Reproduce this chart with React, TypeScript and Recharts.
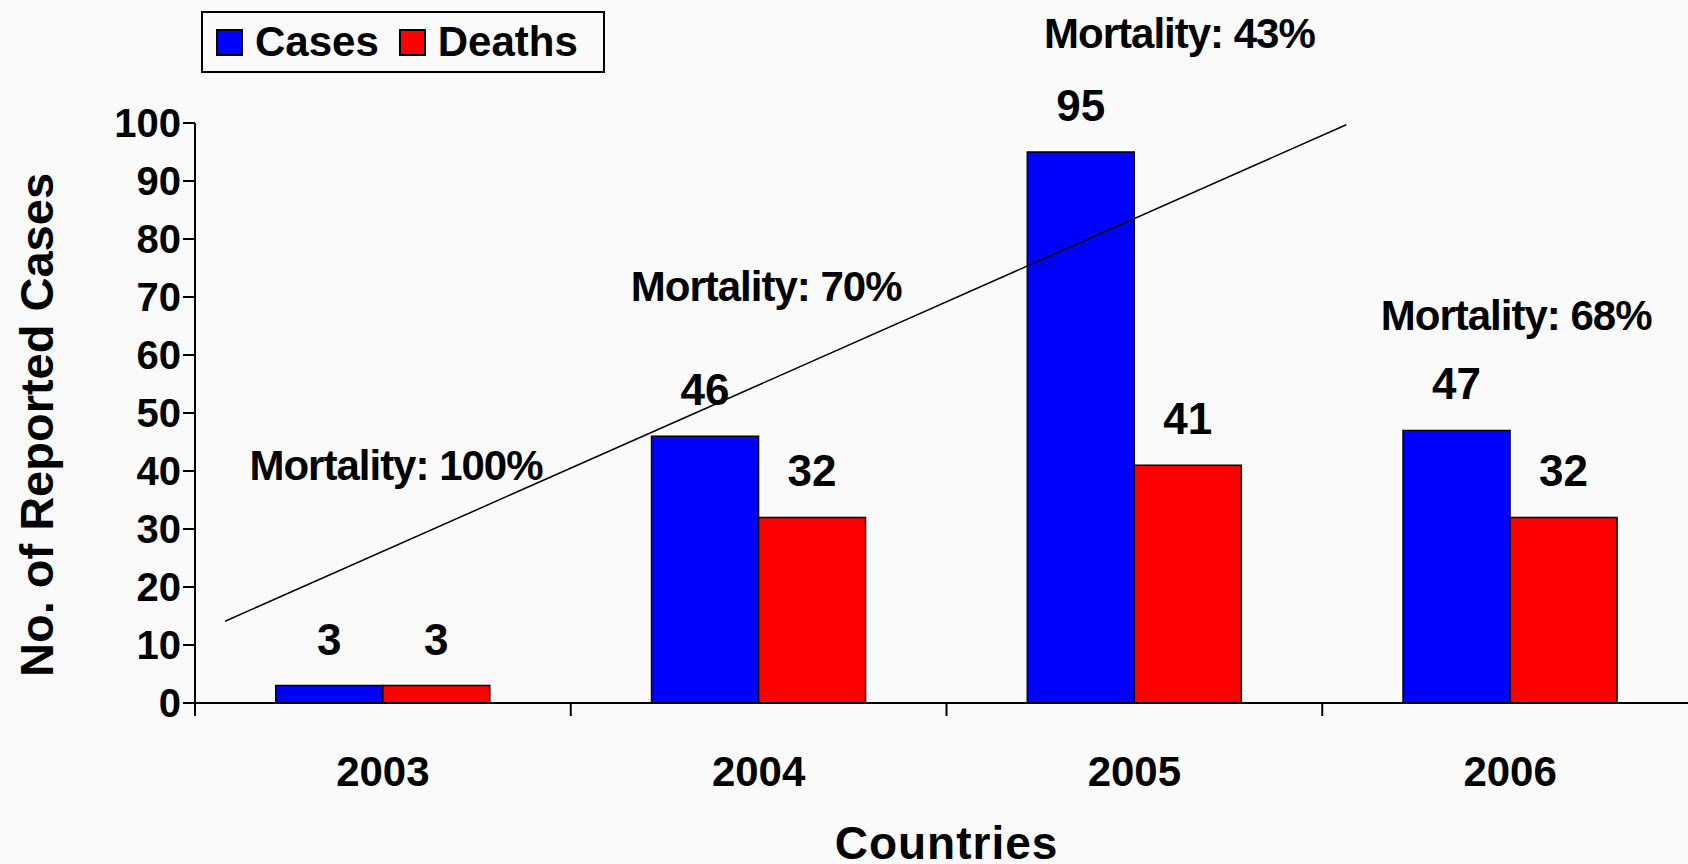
import React from 'react'
import {
    ComposedChart,
    Bar,
    XAxis,
    YAxis,
    Legend,
    LabelList,
    Label,
    ReferenceLine,
    ReferenceDot,
} from 'recharts'

const years = ['2003', '2004', '2005', '2006']
const cases = [3, 46, 95, 47]
const deaths = [3, 32, 41, 32]
const mortality = [100, 70, 43, 68]
const yTicks = [0, 10, 20, 30, 40, 50, 60, 70, 80, 90, 100]

// centre of each year slot on the 0–4 slot scale
const slotCentre = [0.5, 1.5, 2.5, 3.5]

// where each mortality note sits: x in year slots (0–4), y in axis units
const noteX = [0.535, 1.52, 2.62, 3.516]
const noteY = [41, 71.8, 115.5, 66.8]

// the drawn trend line, same units
const trendX = [0.08, 3.064]
const trendY = [14.1, 99.7]

const FONT = '"Liberation Sans", Arial, Helvetica, sans-serif'
const BLUE = '#0000ff'
const RED = '#ff0000'

const data = years.map((year, i) => ({ year, slot: slotCentre[i], cases: cases[i], deaths: deaths[i] }))

// year label under the slot, tick marks on the slot edges
function YearTick({ x, y, payload, index, visibleTicksCount }: any) {
    const half = payload?.offset ?? 188
    const axisY = y - 12
    return (
        <g>
            <line x1={x - half} y1={axisY} x2={x - half} y2={axisY + 13} stroke="#000" strokeWidth={2} />
            {index === visibleTicksCount - 1 && (
                <line x1={x + half} y1={axisY} x2={x + half} y2={axisY + 13} stroke="#000" strokeWidth={2} />
            )}
            <text
                x={x}
                y={axisY + 83}
                textAnchor="middle"
                fontFamily={FONT}
                fontWeight="bold"
                fontSize={42}
                fill="#000"
            >
                {payload.value}
            </text>
        </g>
    )
}

function LegendBox({ payload }: any) {
    return (
        <div
            style={{
                boxSizing: 'border-box',
                width: 404,
                height: 62,
                border: '2px solid #000',
                display: 'flex',
                alignItems: 'center',
                paddingLeft: 13,
                fontFamily: FONT,
                fontWeight: 'bold',
                fontSize: 42,
                color: '#000',
                lineHeight: 1,
            }}
        >
            {(payload ?? []).map((entry: any) => (
                <span key={entry.value} style={{ display: 'flex', alignItems: 'center', marginRight: 20 }}>
                    <span
                        style={{
                            display: 'inline-block',
                            boxSizing: 'border-box',
                            width: 27,
                            height: 27,
                            background: entry.color,
                            border: '2px solid #000',
                            marginRight: 12,
                        }}
                    />
                    {entry.value}
                </span>
            ))}
        </div>
    )
}

export default function App() {
    return (
        <div style={{ width: 1688, height: 864, overflow: 'hidden', background: '#fafafa' }}>
            <style>{'body{margin:0}'}</style>
            <ComposedChart
                width={1698}
                height={864}
                data={data}
                margin={{ top: 123, right: 0, bottom: 0, left: 0 }}
                barCategoryGap="21.5%"
                barGap={0}
            >
                <XAxis
                    xAxisId="year"
                    dataKey="year"
                    interval={0}
                    height={161}
                    tickLine={false}
                    tickSize={12}
                    tickMargin={0}
                    tick={<YearTick />}
                    axisLine={{ stroke: '#000', strokeWidth: 2 }}
                >
                    <Label
                        content={({ viewBox }: any) => (
                            <text
                                x={viewBox.x + viewBox.width / 2}
                                y={viewBox.y + 156}
                                textAnchor="middle"
                                fontFamily={FONT}
                                fontWeight="bold"
                                fontSize={46}
                                letterSpacing={1}
                                fill="#000"
                            >
                                Countries
                            </text>
                        )}
                    />
                </XAxis>
                <XAxis
                    xAxisId="slot"
                    dataKey="slot"
                    type="number"
                    scale="linear"
                    domain={[0, 4]}
                    allowDataOverflow
                    height={0}
                    hide
                />
                <YAxis
                    width={195}
                    domain={[0, 100]}
                    ticks={yTicks}
                    interval={0}
                    tickSize={12}
                    tickMargin={2}
                    axisLine={{ stroke: '#000', strokeWidth: 2 }}
                    tickLine={{ stroke: '#000', strokeWidth: 2 }}
                    tick={{ fontSize: 40, fontWeight: 'bold', fill: '#000', fontFamily: FONT }}
                >
                    <Label
                        content={({ viewBox }: any) => {
                            const cx = viewBox.x + 36
                            const cy = viewBox.y + viewBox.height / 2 + 12
                            return (
                                <text
                                    x={cx}
                                    y={cy}
                                    transform={`rotate(-90 ${cx} ${cy})`}
                                    textAnchor="middle"
                                    dominantBaseline="central"
                                    fontFamily={FONT}
                                    fontWeight="bold"
                                    fontSize={47}
                                    fill="#000"
                                >
                                    No. of Reported Cases
                                </text>
                            )
                        }}
                    />
                </YAxis>
                <Legend
                    layout="horizontal"
                    verticalAlign="middle"
                    align="center"
                    wrapperStyle={{ top: 11, left: 201, width: 404, height: 62 }}
                    content={<LegendBox />}
                />
                <Bar xAxisId="year" dataKey="cases" name="Cases" fill={BLUE} stroke="#000" strokeWidth={1.5} isAnimationActive={false}>
                    <LabelList dataKey="cases" position="top" offset={31} fill="#000" fontSize={44} fontWeight="bold" fontFamily={FONT} />
                </Bar>
                <Bar xAxisId="year" dataKey="deaths" name="Deaths" fill={RED} stroke="#000" strokeWidth={1.5} isAnimationActive={false}>
                    <LabelList dataKey="deaths" position="top" offset={31} fill="#000" fontSize={44} fontWeight="bold" fontFamily={FONT} />
                </Bar>
                <ReferenceLine
                    xAxisId="slot"
                    segment={[
                        { x: trendX[0], y: trendY[0] },
                        { x: trendX[1], y: trendY[1] },
                    ]}
                    stroke="#000"
                    strokeWidth={1.5}
                    ifOverflow="visible"
                />
                {mortality.map((m, i) => (
                    <ReferenceDot
                        key={years[i]}
                        xAxisId="slot"
                        x={noteX[i]}
                        y={noteY[i]}
                        r={0}
                        ifOverflow="visible"
                        shape={(p: any) => (
                            <text
                                x={p.cx}
                                y={p.cy}
                                textAnchor="middle"
                                dominantBaseline="central"
                                fontFamily={FONT}
                                fontWeight="bold"
                                fontSize={42}
                                letterSpacing={-1}
                                fill="#000"
                            >
                                {`Mortality: ${m}%`}
                            </text>
                        )}
                    />
                ))}
            </ComposedChart>
        </div>
    )
}
